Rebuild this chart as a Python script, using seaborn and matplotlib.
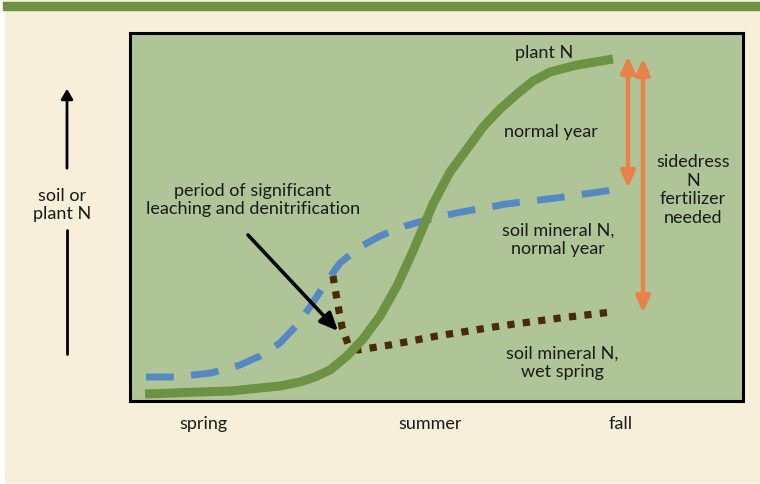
import matplotlib
matplotlib.use("Agg")
import matplotlib.pyplot as plt
import matplotlib.patches as mpatches
import seaborn as sns
import pandas as pd

sns.set_theme(style="white")
plt.rcParams["font.family"] = ["Lato", "DejaVu Sans"]

# Curve shapes (x: season axis position, y: relative N level)
plant_x = [15, 70, 100, 130, 150, 170, 185, 200, 217, 233, 250, 267, 283, 303,
           320, 337, 353, 370, 387, 403, 420, 447, 483]
plant_y = [7, 9, 10, 13, 15, 19, 24, 31, 45, 62, 85, 115, 150, 197,
           229, 252, 274, 292, 307, 320, 329, 336, 342]

soil_normal_x = [16, 45, 81, 110, 130, 150, 167, 182, 195, 210, 230, 250, 275,
                 300, 326, 376, 426, 490]
soil_normal_y = [24, 24, 28, 36, 45, 58, 76, 97, 117, 138, 154, 165, 175,
                 182, 188, 197, 203, 212]

soil_wet_x = [203, 206, 209, 212, 218, 228, 260, 307, 370, 430, 482]
soil_wet_y = [125, 107, 90, 74, 57, 51, 56, 65, 75, 83, 89]

season_labels = ["spring", "summer", "fall"]
season_pos = [73, 300, 491]

fig = plt.figure(figsize=(7.6, 4.85), dpi=100)
fig.patch.set_facecolor("white")
W, H = 760, 485

# cream panel and green top band
fig.add_artist(mpatches.Rectangle((5 / W, 2 / H), 755 / W, (485 - 2) / H,
                                  transform=fig.transFigure, color="#F8EFDA", zorder=0))
fig.add_artist(mpatches.Rectangle((3 / W, (485 - 11) / H), 757 / W, 8 / H,
                                  transform=fig.transFigure, color="#6E9243", zorder=1))

ax = fig.add_axes([130 / W, (485 - 402) / H, 613 / W, 368 / H])
ax.set_facecolor("#B0C597")
ax.set_xlim(0, 613)
ax.set_ylim(0, 368)
for s in ax.spines.values():
    s.set_color("black")
    s.set_linewidth(2.2)
ax.set_xticks([])
ax.set_yticks([])

df_plant = pd.DataFrame({"x": plant_x, "y": plant_y})
df_norm = pd.DataFrame({"x": soil_normal_x, "y": soil_normal_y})
df_wet = pd.DataFrame({"x": soil_wet_x, "y": soil_wet_y})

sns.lineplot(data=df_norm, x="x", y="y", ax=ax, color="#5689C3", linewidth=5,
             sort=False, estimator=None, zorder=3)
ax.lines[-1].set_dashes([4.0, 2.5])
sns.lineplot(data=df_wet, x="x", y="y", ax=ax, color="#4B2A06", linewidth=5.2,
             sort=False, estimator=None, zorder=3)
ax.lines[-1].set_dashes([1.0, 1.15])
sns.lineplot(data=df_plant, x="x", y="y", ax=ax, color="#6E9243", linewidth=6.5,
             sort=False, estimator=None, zorder=4)
ax.lines[-1].set_solid_capstyle("butt")
ax.lines[-1].set_solid_joinstyle("round")
ax.set_xlabel("")
ax.set_ylabel("")

# black arrow to the leaching period
ax.annotate("", xy=(208, 70), xytext=(118, 166),
            arrowprops=dict(arrowstyle="-|>,head_length=0.9,head_width=0.4",
                            color="black", lw=2.6, shrinkA=0, shrinkB=0), zorder=5)

# orange double arrows: sidedress needed
orange = "#E6824A"
for x, y0, y1 in [(498, 213, 345), (513, 88, 343)]:
    ax.annotate("", xy=(x, y1), xytext=(x, y0),
                arrowprops=dict(arrowstyle="<|-|>,head_length=0.8,head_width=0.35",
                                color=orange, lw=3.2, shrinkA=0, shrinkB=0), zorder=5)

fs = 13
tc = "#1a1a1a"
ax.text(414, 349, "plant N", ha="center", va="center", fontsize=fs, color=tc)
ax.text(421, 270, "normal year", ha="center", va="center", fontsize=fs, color=tc)
ax.text(563, 212, "sidedress\nN\nfertilizer\nneeded", ha="center", va="center",
        fontsize=fs, linespacing=1.2, color=tc)
ax.text(428, 162, "soil mineral N,\nnormal year", ha="center", va="center",
        fontsize=fs, linespacing=1.2, color=tc)
ax.text(432, 39, "soil mineral N,\nwet spring", ha="center", va="center",
        fontsize=fs, linespacing=1.2, color=tc)
ax.text(123, 202, "period of significant\nleaching and denitrification", ha="center",
        va="center", fontsize=fs, linespacing=1.2, color=tc)

for lab, p in zip(season_labels, season_pos):
    ax.text(p, -22, lab, ha="center", va="center", fontsize=fs, clip_on=False, color=tc)

# left axis arrow and label
fig.text(62 / W, 1 - 205 / H, "soil or\nplant N", ha="center", va="center",
         fontsize=fs, linespacing=1.2, color=tc)
fig.add_artist(mpatches.FancyArrowPatch((67 / W, 1 - 172 / H), (67 / W, 1 - 87 / H),
                                        transform=fig.transFigure,
                                        arrowstyle="-|>,head_length=6,head_width=3.5",
                                        color="black", lw=2, mutation_scale=1))
fig.add_artist(plt.Line2D([67 / W, 67 / W], [1 - 231 / H, 1 - 355 / H],
                          transform=fig.transFigure, color="black", lw=2))

fig.savefig("out.png", dpi=100, facecolor=fig.get_facecolor())
